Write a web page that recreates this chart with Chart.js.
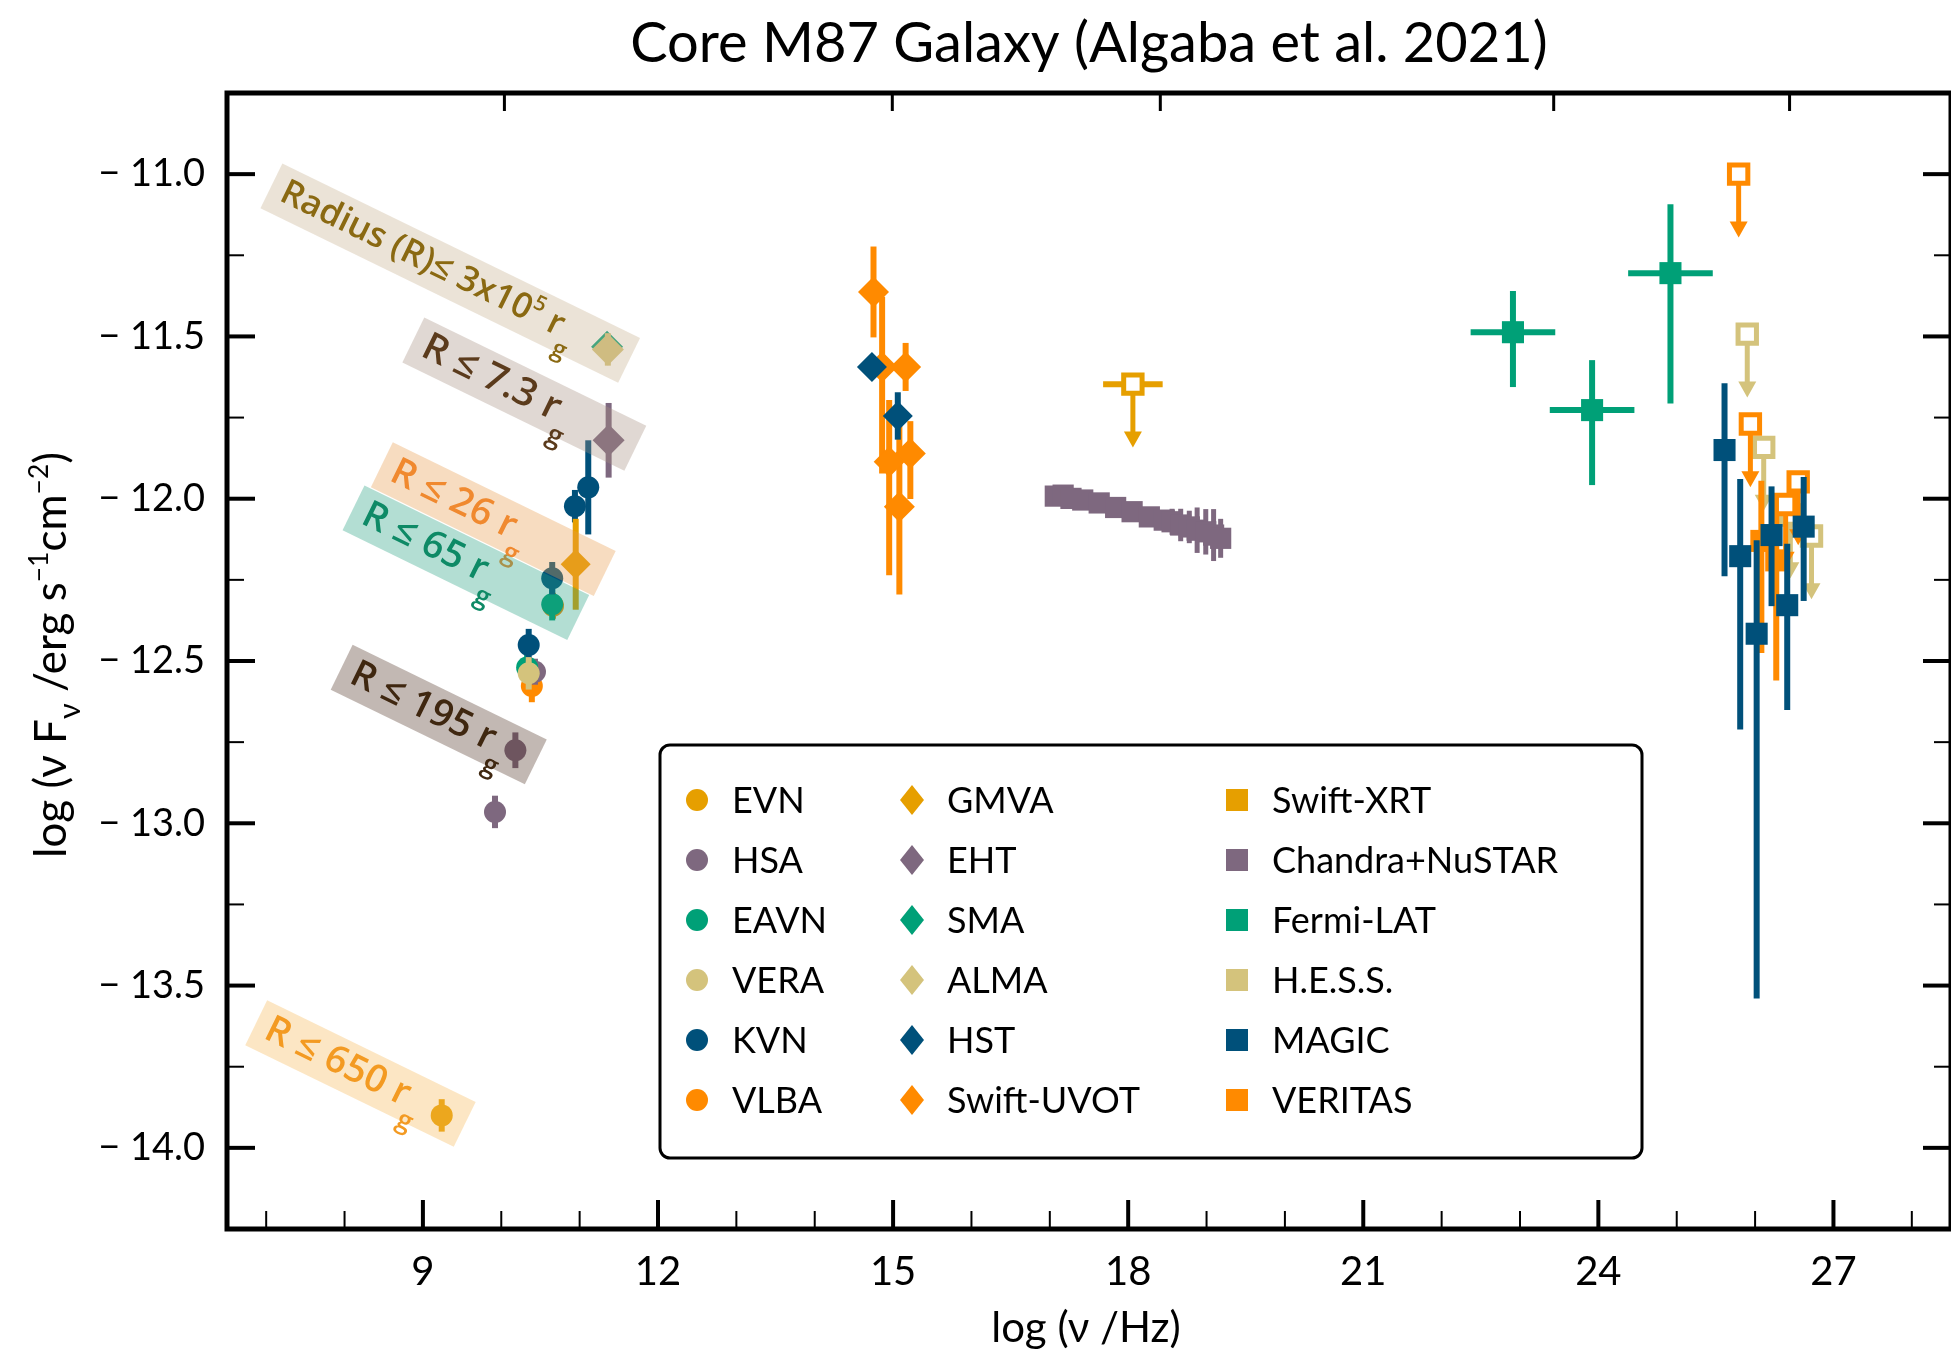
<!DOCTYPE html>
<html>
<head>
<meta charset="utf-8">
<title>Core M87 Galaxy SED</title>
<script src="https://cdn.jsdelivr.net/npm/chart.js@4.4.1/dist/chart.umd.min.js"></script>
<style>
  html, body { margin: 0; padding: 0; background: #fff; }
  #wrap { width: 1951px; height: 1353px; overflow: hidden; }
</style>
</head>
<body>
<div id="wrap"><canvas id="sed" width="1951" height="1353"></canvas></div>
<script>
// axis ticks (log nu, log nuFnu)
const xTicks = [9, 12, 15, 18, 21, 24, 27];
const xMinor = [7, 8, 10, 11, 13, 14, 16, 17, 19, 20, 22, 23, 25, 26, 28];
const xTopTicks = [10.04, 14.99, 18.41, 23.43, 26.44];
const yTicks = [-14.0, -13.5, -13.0, -12.5, -12.0, -11.5, -11.0];
const yMinor = [-13.75, -13.25, -12.75, -12.25, -11.75, -11.25];

// radio / mm (circles)
const evnNu = [9.24], evnFlux = [-13.90], evnErr = [0.05];
const hsaNu = [9.92, 10.18, 10.43], hsaFlux = [-12.965, -12.775, -12.533], hsaErr = [0.05, 0.055, 0.04];
const eavnNu = [10.33, 10.65], eavnFlux = [-12.52, -12.325], eavnErr = [0.04, 0.05];
const veraNu = [10.35], veraFlux = [-12.538], veraErr = [0.05];
const kvnNu = [10.35, 10.65, 10.94, 11.11], kvnFlux = [-12.451, -12.245, -12.023, -11.965], kvnErr = [0.05, 0.05, 0.05, 0.145];
const vlbaNu = [10.39, 10.66], vlbaFlux = [-12.577, -12.33], vlbaErr = [0.05, 0.04];

// mm / optical (diamonds)
const gmvaNu = [10.95], gmvaFlux = [-12.202], gmvaErr = [0.14];
const ehtNu = [11.37], ehtFlux = [-11.82], ehtErr = [0.115];
const smaNu = [11.35], smaFlux = [-11.532], smaErr = [0.03];
const almaNu = [11.36], almaFlux = [-11.54], almaErr = [0.05];
const hstNu = [14.73, 15.06], hstFlux = [-11.594, -11.745], hstErr = [0.02, 0.073];
const uvotNu = [14.75, 14.86, 15.16, 15.22, 14.95, 15.08];
const uvotFlux = [-11.363, -11.594, -11.594, -11.861, -11.886, -12.025];
const uvotErrHi = [0.14, 0.216, 0.074, 0.10, 0.19, 0.26];
const uvotErrLo = [0.14, 0.328, 0.074, 0.14, 0.35, 0.27];

// X-ray and gamma-ray (squares)
const xrtNu = [18.06], xrtFlux = [-11.647], xrtErrNu = [0.38];
const chandraNu = [17.07, 17.17, 17.27, 17.42, 17.63, 17.84, 18.05, 18.27, 18.46, 18.56, 18.67, 18.78, 18.88, 18.99, 19.09, 19.18];
const chandraFlux = [-11.992, -11.989, -11.999, -12.004, -12.013, -12.027, -12.040, -12.056, -12.066, -12.071, -12.081, -12.087, -12.097, -12.102, -12.112, -12.122];
const chandraErr = [0.02, 0.03, 0.02, 0.02, 0.02, 0.02, 0.02, 0.025, 0.03, 0.04, 0.05, 0.05, 0.07, 0.07, 0.08, 0.06];
const fermiNu = [22.91, 23.92, 24.92], fermiFlux = [-11.487, -11.727, -11.305];
const fermiErrHi = [0.127, 0.154, 0.212], fermiErrLo = [0.169, 0.231, 0.402], fermiErrNu = [0.54, 0.54, 0.54];
const hessNu = [25.90, 26.11, 26.45, 26.72], hessFlux = [-11.493, -11.842, -12.05, -12.115];
const magicNu = [25.61, 25.81, 26.02, 26.21, 26.41, 26.62];
const magicFlux = [-11.85, -12.177, -12.416, -12.112, -12.328, -12.086];
const magicErrHi = [0.206, 0.238, 0.288, 0.15, 0.189, 0.153];
const magicErrLo = [0.389, 0.534, 1.124, 0.219, 0.323, 0.229];
const veritasNu = [26.08, 26.27], veritasFlux = [-12.13, -12.19];
const veritasErrHi = [0.185, 0.175], veritasErrLo = [0.345, 0.37];
const veritasUlNu = [25.79, 25.94, 26.39, 26.55], veritasUlFlux = [-11.00, -11.77, -12.018, -11.948];
const ulDrop = 0.195; // length of upper-limit arrows in dex

const COL = {
  gold: '#E69F00', plum: '#7E687F', green: '#00A077',
  sand: '#D4C37C', navy: '#00507A', orange: '#FF8A00'
};

function series(label, nu, flux, color, style, radius, order, extra) {
  return Object.assign({
    label, order,
    data: nu.map((x, i) => ({ x, y: flux[i] })),
    pointStyle: style,
    pointRadius: radius,
    pointHoverRadius: radius,
    backgroundColor: color,
    borderColor: color,
    borderWidth: 0,
    errColor: color
  }, extra || {});
}
const openSq = { backgroundColor: '#fff', borderWidth: 5, upper: true };

const datasets = [
  series('MAGIC', magicNu, magicFlux, COL.navy, 'rect', 15.6, 1, { errHi: magicErrHi, errLo: magicErrLo }),
  series('VERITAS', veritasUlNu, veritasUlFlux, COL.orange, 'rect', 13, 2, openSq),
  series('VERITAS', veritasNu, veritasFlux, COL.orange, 'rect', 15.6, 3, { errHi: veritasErrHi, errLo: veritasErrLo }),
  series('H.E.S.S.', hessNu, hessFlux, COL.sand, 'rect', 13, 4, openSq),
  series('Fermi-LAT', fermiNu, fermiFlux, COL.green, 'rect', 15.6, 5, { errHi: fermiErrHi, errLo: fermiErrLo, errX: fermiErrNu }),
  series('Chandra+NuSTAR', chandraNu, chandraFlux, COL.plum, 'rect', 15, 6, { errHi: chandraErr, errW: 5 }),
  series('Swift-XRT', xrtNu, xrtFlux, COL.gold, 'rect', 13, 7, Object.assign({ errX: xrtErrNu }, openSq)),
  series('HST', hstNu, hstFlux, COL.navy, 'rectRot', 15, 8, { errHi: hstErr }),
  series('Swift-UVOT', uvotNu, uvotFlux, COL.orange, 'rectRot', 15.5, 9, { errHi: uvotErrHi, errLo: uvotErrLo }),
  series('ALMA', almaNu, almaFlux, COL.sand, 'rectRot', 16, 10, { errHi: almaErr }),
  series('SMA', smaNu, smaFlux, COL.green, 'rectRot', 16, 11, { errHi: smaErr }),
  series('EHT', ehtNu, ehtFlux, COL.plum, 'rectRot', 16, 12, { errHi: ehtErr }),
  series('GMVA', gmvaNu, gmvaFlux, COL.gold, 'rectRot', 15, 13, { errHi: gmvaErr }),
  series('VERA', veraNu, veraFlux, COL.sand, 'circle', 11, 14, { errHi: veraErr }),
  series('KVN', kvnNu, kvnFlux, COL.navy, 'circle', 11, 15, { errHi: kvnErr }),
  series('EAVN', eavnNu, eavnFlux, COL.green, 'circle', 11, 16, { errHi: eavnErr }),
  series('HSA', hsaNu, hsaFlux, COL.plum, 'circle', 11, 17, { errHi: hsaErr }),
  series('VLBA', vlbaNu, vlbaFlux, COL.orange, 'circle', 11, 18, { errHi: vlbaErr }),
  series('EVN', evnNu, evnFlux, COL.gold, 'circle', 11, 19, { errHi: evnErr })
];

// region size labels, rotated along the radio points
const regions = [
  { x: 9.349, y: -11.305, len: 398, size: 35, color: '#8a6912', fill: 'rgba(198,175,141,0.35)',
    parts: [{ t: 'Radius (R)\u2264 3x10' }, { t: '5', sup: true }, { t: ' r' }, { t: 'g', sub: true }] },
  { x: 10.294, y: -11.678, len: 247, size: 39, color: '#5b3b1c', fill: 'rgba(166,144,129,0.35)',
    parts: [{ t: 'R \u2264 7.3 r' }, { t: 'g', sub: true }] },
  { x: 9.898, y: -12.063, len: 248, size: 38, color: '#f0892f', fill: 'rgba(232,155,75,0.35)',
    parts: [{ t: 'R \u2264 26 r' }, { t: 'g', sub: true }] },
  { x: 9.548, y: -12.197, len: 250, size: 38, color: '#0e8a66', fill: 'rgba(38,161,129,0.35)',
    parts: [{ t: 'R \u2264 65 r' }, { t: 'g', sub: true }] },
  { x: 9.202, y: -12.665, len: 216, size: 38, color: '#3f2710', fill: 'rgba(81,52,38,0.35)',
    parts: [{ t: 'R \u2264 195 r' }, { t: 'g', sub: true }] },
  { x: 8.203, y: -13.771, len: 232, size: 38, color: '#f39a22', fill: 'rgba(246,184,86,0.35)',
    parts: [{ t: 'R \u2264 650 r' }, { t: 'g', sub: true }] }
];

const legendCols = [
  ['EVN', 'HSA', 'EAVN', 'VERA', 'KVN', 'VLBA'],
  ['GMVA', 'EHT', 'SMA', 'ALMA', 'HST', 'Swift-UVOT'],
  ['Swift-XRT', 'Chandra+NuSTAR', 'Fermi-LAT', 'H.E.S.S.', 'MAGIC', 'VERITAS']
];

function partFont(p, size, weight, family) {
  const s = p.sup ? size * 0.6 : p.sub ? size * 0.7 : size;
  return weight + ' ' + s + 'px ' + family;
}
function richWidth(ctx, parts, size, weight, family) {
  let w = 0;
  parts.forEach(p => { ctx.font = partFont(p, size, weight, family); w += ctx.measureText(p.t).width; });
  return w;
}
function drawRich(ctx, parts, x, y, size, weight, family, subDrop) {
  let cx = x;
  parts.forEach(p => {
    ctx.font = partFont(p, size, weight, family);
    const dy = p.sup ? -size * 0.42 : p.sub ? size * (subDrop || 0.55) : 0;
    ctx.fillText(p.t, cx, y + dy);
    cx += ctx.measureText(p.t).width;
  });
}

const errorBars = {
  id: 'errorBars',
  beforeDatasetDraw(chart, args) {
    const ds = chart.data.datasets[args.index];
    const xs = chart.scales.x, ys = chart.scales.y;
    const ctx = chart.ctx;
    ctx.save();
    ctx.strokeStyle = ds.errColor;
    ctx.fillStyle = ds.errColor;
    ctx.lineCap = 'butt';
    ds.data.forEach((p, i) => {
      const px = xs.getPixelForValue(p.x), py = ys.getPixelForValue(p.y);
      ctx.lineWidth = ds.errW || 6;
      if (ds.errHi) {
        const top = ys.getPixelForValue(p.y + ds.errHi[i]);
        const bot = ys.getPixelForValue(p.y - (ds.errLo || ds.errHi)[i]);
        ctx.beginPath(); ctx.moveTo(px, top); ctx.lineTo(px, bot); ctx.stroke();
      }
      if (ds.errX) {
        const l = xs.getPixelForValue(p.x - ds.errX[i]);
        const r = xs.getPixelForValue(p.x + ds.errX[i]);
        ctx.beginPath(); ctx.moveTo(l, py); ctx.lineTo(r, py); ctx.stroke();
      }
      if (ds.upper) {
        const tip = ys.getPixelForValue(p.y - ulDrop);
        ctx.lineWidth = 5;
        ctx.beginPath(); ctx.moveTo(px, py); ctx.lineTo(px, tip - 15); ctx.stroke();
        ctx.beginPath();
        ctx.moveTo(px - 9, tip - 16); ctx.lineTo(px + 9, tip - 16); ctx.lineTo(px, tip);
        ctx.closePath(); ctx.fill();
      }
    });
    ctx.restore();
  }
};

const regionLabels = {
  id: 'regionLabels',
  afterDatasetsDraw(chart) {
    const ctx = chart.ctx, xs = chart.scales.x, ys = chart.scales.y;
    const ang = 26 * Math.PI / 180;
    regions.forEach(r => {
      ctx.save();
      ctx.translate(xs.getPixelForValue(r.x), ys.getPixelForValue(r.y));
      ctx.rotate(ang);
      ctx.fillStyle = r.fill;
      ctx.fillRect(-r.len / 2, -25, r.len, 50);
      ctx.fillStyle = r.color;
      ctx.textBaseline = 'alphabetic';
      ctx.textAlign = 'left';
      drawRich(ctx, r.parts, -r.len / 2 + 12, r.size * 0.36 - 3, r.size, '600', '"Open Sans"');
      ctx.restore();
    });
  }
};

const frame = {
  id: 'frame',
  afterDraw(chart) {
    const { ctx, chartArea: a } = chart;
    const xs = chart.scales.x, ys = chart.scales.y;
    ctx.save();
    ctx.strokeStyle = '#000';
    ctx.lineCap = 'butt';
    const seg = (x1, y1, x2, y2, w) => {
      ctx.lineWidth = w; ctx.beginPath(); ctx.moveTo(x1, y1); ctx.lineTo(x2, y2); ctx.stroke();
    };
    xTicks.forEach(v => { const p = xs.getPixelForValue(v); seg(p, a.bottom, p, a.bottom - 29, 4); });
    xMinor.forEach(v => { const p = xs.getPixelForValue(v); seg(p, a.bottom, p, a.bottom - 18, 2); });
    xTopTicks.forEach(v => { const p = xs.getPixelForValue(v); seg(p, a.top, p, a.top + 18, 3); });
    yTicks.forEach(v => {
      const p = ys.getPixelForValue(v);
      seg(a.left, p, a.left + 28, p, 4); seg(a.right, p, a.right - 28, p, 4);
    });
    yMinor.forEach(v => {
      const p = ys.getPixelForValue(v);
      seg(a.left, p, a.left + 17, p, 2); seg(a.right, p, a.right - 17, p, 2);
    });
    ctx.lineWidth = 5;
    ctx.strokeRect(a.left, a.top, a.right - a.left, a.bottom - a.top);

    // legend
    ctx.fillStyle = '#fff';
    ctx.lineWidth = 3;
    ctx.beginPath();
    ctx.roundRect(660, 745, 982, 413, 10);
    ctx.fill(); ctx.stroke();
    const colX = [697, 912, 1237];
    const textX = [732, 947, 1272];
    ctx.textBaseline = 'alphabetic';
    ctx.textAlign = 'left';
    legendCols.forEach((col, c) => {
      col.forEach((label, r) => {
        const ds = chart.data.datasets.find(d => d.label === label);
        const cy = 800 + r * 60, cx = colX[c];
        ctx.fillStyle = ds.errColor;
        ctx.beginPath();
        if (ds.pointStyle === 'circle') {
          ctx.arc(cx, cy, 11, 0, Math.PI * 2);
        } else if (ds.pointStyle === 'rectRot') {
          ctx.moveTo(cx, cy - 15); ctx.lineTo(cx + 12, cy); ctx.lineTo(cx, cy + 15); ctx.lineTo(cx - 12, cy);
          ctx.closePath();
        } else {
          ctx.rect(cx - 11, cy - 11, 22, 22);
        }
        ctx.fill();
        ctx.fillStyle = '#000';
        ctx.font = '36px Lato';
        ctx.fillText(label, textX[c], cy + 13);
      });
    });

    // titles
    ctx.fillStyle = '#000';
    ctx.textAlign = 'center';
    ctx.font = '56px Lato';
    ctx.fillText('Core M87 Galaxy (Algaba et al. 2021)', 1089, 62);
    ctx.font = '42px Lato';
    ctx.fillText('log (\u03bd /Hz)', 1086, 1342);

    const yParts = [{ t: 'log (\u03bd F' }, { t: '\u03bd', sub: true }, { t: ' /erg s' }, { t: '\u22121', sup: true },
      { t: 'cm' }, { t: '\u22122', sup: true }, { t: ')' }];
    ctx.translate(66, 655);
    ctx.rotate(-Math.PI / 2);
    ctx.textAlign = 'left';
    const w = richWidth(ctx, yParts, 44, '400', 'Lato');
    drawRich(ctx, yParts, -w / 2, 0, 44, '400', 'Lato', 0.32);
    ctx.restore();
  }
};

Chart.defaults.font.family = 'Lato';
Chart.defaults.color = '#000';

new Chart(document.getElementById('sed'), {
  type: 'scatter',
  data: { datasets },
  options: {
    responsive: false,
    animation: false,
    devicePixelRatio: 1,
    events: [],
    layout: { autoPadding: false, padding: { top: 93, right: -1, left: 0, bottom: 0 } },
    plugins: { legend: { display: false }, tooltip: { enabled: false }, title: { display: false } },
    scales: {
      x: {
        type: 'linear', min: 6.5, max: 28.5,
        afterBuildTicks: s => { s.ticks = xTicks.map(v => ({ value: v })); },
        afterFit: s => { s.height = 124; s.paddingLeft = 0; s.paddingRight = 0; },
        grid: { display: false, drawTicks: false, tickLength: 0 },
        border: { display: false },
        ticks: { font: { size: 40 }, padding: 19, maxRotation: 0, autoSkip: false }
      },
      y: {
        type: 'linear', min: -14.25, max: -10.75,
        afterBuildTicks: s => { s.ticks = yTicks.map(v => ({ value: v })); },
        afterFit: s => { s.width = 227; s.paddingTop = 0; s.paddingBottom = 0; },
        grid: { display: false, drawTicks: false, tickLength: 0 },
        border: { display: false },
        ticks: { font: { size: 38 }, padding: 22, autoSkip: false,
          callback: v => '\u2212 ' + Math.abs(v).toFixed(1) }
      }
    }
  },
  plugins: [errorBars, regionLabels, frame]
});
</script>
</body>
</html>
